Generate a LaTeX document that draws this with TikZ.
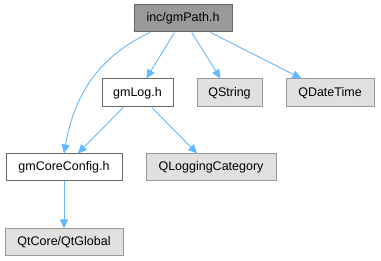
\documentclass[tikz,border=0pt]{standalone}
\usepackage{fontspec}
\setmainfont{Liberation Sans}
\usetikzlibrary{arrows.meta}
\definecolor{edgeblue}{HTML}{63B8FF}
\definecolor{rootfill}{HTML}{999999}
\definecolor{rootline}{HTML}{666666}
\definecolor{extfill}{HTML}{E0E0E0}
\definecolor{extline}{HTML}{999999}
\begin{document}
\begin{tikzpicture}[x=1pt,y=-1pt,every node/.style={font=\fontsize{12.5}{14}\selectfont,inner sep=0pt,minimum height=27pt,line width=1pt},
  rootbox/.style={draw=rootline,fill=rootfill},
  filebox/.style={draw=rootline,fill=white},
  extbox/.style={draw=extline,fill=extfill},
  dep/.style={draw=edgeblue,line width=0.9pt,-{Triangle[length=9pt,width=8pt]}}]
\useasboundingbox (0,0) rectangle (381,261);
% include graph nodes
\node[rootbox,minimum width=98pt] (gmpath) at (183,18.5) {inc/gmPath.h};
\node[filebox,minimum width=71pt,minimum height=28pt] (gmlog) at (137.5,93) {gmLog.h};
\node[extbox,minimum width=65pt,minimum height=28pt] (qstring) at (229.5,93) {QString};
\node[extbox,minimum width=88pt,minimum height=28pt] (qdatetime) at (330,93) {QDateTime};
\node[filebox,minimum width=116pt] (coreconfig) at (64,167.5) {gmCoreConfig.h};
\node[extbox,minimum width=130pt] (qlogcat) at (211,167.5) {QLoggingCategory};
\node[extbox,minimum width=118pt] (qtglobal) at (64,242.5) {QtCore/QtGlobal};
% dependencies
\draw[dep] (gmpath.203) to[out=205,in=80] (coreconfig.north);
\foreach \dst in {gmlog,qstring,qdatetime} {\draw[dep] (gmpath) -- (\dst);}
\foreach \dst in {coreconfig,qlogcat} {\draw[dep] (gmlog) -- (\dst);}
\draw[dep] (coreconfig) -- (qtglobal);
\end{tikzpicture}
\end{document}
